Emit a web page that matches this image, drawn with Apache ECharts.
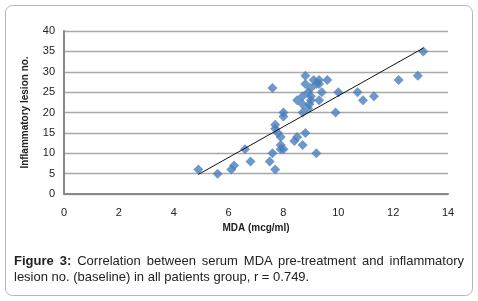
<!DOCTYPE html>
<html><head><meta charset="utf-8">
<script src="https://cdn.jsdelivr.net/npm/echarts@6/dist/echarts.min.js"></script>
<style>
html,body{margin:0;padding:0;background:#fff;}
#wrap{position:relative;width:478px;height:301px;}
#chart{position:absolute;left:0;top:0;width:478px;height:301px;}
#cap{position:absolute;left:14px;top:253px;width:450px;font-family:"Liberation Sans",Arial,sans-serif;font-size:13px;line-height:16px;color:#222;text-align:justify;text-align-last:left;}
</style></head><body>
<div id="wrap"><div id="chart"></div>
<div id="cap"><b>Figure 3:</b> Correlation between serum MDA pre-treatment and inflammatory lesion no. (baseline) in all patients group, r = 0.749.</div></div>
<script>
const xTicks = [0, 2, 4, 6, 8, 10, 12, 14];
const yTicks = [0, 5, 10, 15, 20, 25, 30, 35, 40];
const mda = [4.9,5.6,6.1,6.2,6.6,6.8,7.5,7.6,7.6,7.7,7.7,7.7,7.8,7.9,7.9,7.9,8.0,8.0,8.0,8.4,8.5,8.7,8.8,8.5,8.7,8.7,8.7,8.9,8.9,8.8,8.8,9.0,9.0,9.1,9.2,9.3,9.3,9.3,9.4,9.6,9.2,9.9,10.0,10.7,10.9,11.3,12.2,12.9,13.1,9.0,8.95];
const lesions = [6,5,6,7,11,8,8,26,10,6,16,17,15,14,12,11,11,19,20,13,14,12,15,23,24,20,22,21,25,27,29,24,23,28,27,28,23,27,25,28,10,20,25,25,23,24,28,29,35,26,22];
const trendLine = [[4.9, 4.8], [13.1, 35.8]];

const pts = mda.map((x, i) => [x, lesions[i]]);
const chart = echarts.init(document.getElementById('chart'), null, {renderer: 'canvas'});
const font = '"Liberation Sans", Arial, sans-serif';
chart.setOption({
  animation: false,
  graphic: [{type: 'rect', shape: {x: 5.5, y: 5.5, width: 467, height: 290, r: 7}, style: {fill: 'none', stroke: '#b5b5b5', lineWidth: 1}, z: -1}],
  grid: {left: 64, top: 31, right: 30, bottom: 107},
  xAxis: {
    type: 'value', min: 0, max: 14, interval: 2,
    name: 'MDA (mcg/ml)', nameLocation: 'middle', nameGap: 26,
    nameTextStyle: {fontFamily: font, fontSize: 10, fontWeight: 'bold', color: '#222'},
    axisLine: {show: true, lineStyle: {color: '#888', width: 2}},
    axisTick: {show: false},
    splitLine: {show: false},
    axisLabel: {fontFamily: font, fontSize: 11, color: '#222', margin: 13,
      formatter: v => xTicks.includes(v) ? String(v) : ''}
  },
  yAxis: {
    type: 'value', min: 0, max: 40, interval: 5,
    name: 'Inflammatory lesion no.', nameLocation: 'middle', nameGap: 34, nameRotate: 90,
    nameTextStyle: {fontFamily: font, fontSize: 10, fontWeight: 'bold', color: '#222'},
    axisLine: {show: true, lineStyle: {color: '#888', width: 2}},
    axisTick: {show: false},
    splitLine: {show: true, lineStyle: {color: '#a9a9a9', width: 1.3}},
    axisLabel: {fontFamily: font, fontSize: 11, color: '#222', margin: 9,
      formatter: v => yTicks.includes(v) ? String(v) : ''}
  },
  series: [
    {type: 'scatter', data: pts, symbol: 'diamond', symbolSize: 10,
      itemStyle: {color: '#4a7ebb'}, z: 3},
    {type: 'line', data: trendLine, symbol: 'none',
      lineStyle: {color: '#111', width: 1}, z: 4}
  ]
});
</script></body></html>
